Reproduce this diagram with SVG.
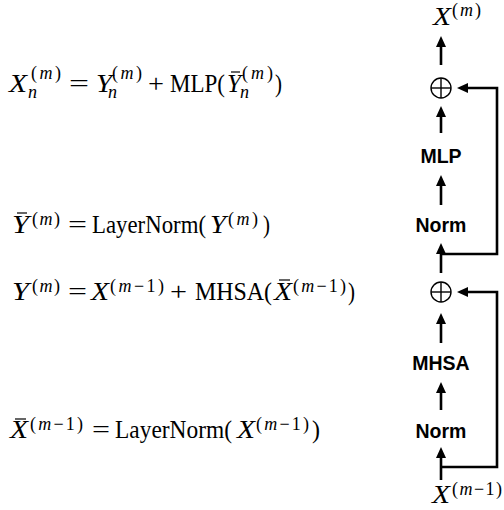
<svg xmlns="http://www.w3.org/2000/svg" width="504" height="510" viewBox="0 0 504 510">
<style>
  .m{font-family:"Liberation Serif","Times New Roman",serif;font-size:25px;fill:#000}
  .s{font-family:"Liberation Serif","Times New Roman",serif;font-size:18px;fill:#000}
  .i{font-style:italic}
  .lbl{font-family:"Liberation Sans",Arial,Helvetica,sans-serif;font-size:19.5px;font-weight:bold;fill:#000;text-anchor:middle}
  .bar{stroke:#000;stroke-width:1.2}
  .conn{fill:none;stroke:#000;stroke-width:2.6}
  .op{fill:none;stroke:#000;stroke-width:1.4}
</style>
<defs>
  <marker id="ah" markerUnits="userSpaceOnUse" markerWidth="11" markerHeight="10" refX="5" refY="5" orient="auto">
    <path d="M0,0 L11,5 L0,10 z" fill="#000"/>
  </marker>
</defs>
<rect width="504" height="510" fill="#fff"/>

<g id="eq1">
  <text class="m i" x="9" y="92" textLength="18" lengthAdjust="spacingAndGlyphs">X</text>
  <text class="s i" x="28" y="98">n</text>
  <text class="s" x="31" y="79" textLength="30" lengthAdjust="spacing">(<tspan class="i">m</tspan>)</text>
  <text class="m" x="69" y="92" textLength="20" lengthAdjust="spacingAndGlyphs">=</text>
  <text class="m i" x="96" y="92" textLength="16" lengthAdjust="spacingAndGlyphs">Y</text>
  <text class="s i" x="108" y="98">n</text>
  <text class="s" x="112" y="79" textLength="30" lengthAdjust="spacing">(<tspan class="i">m</tspan>)</text>
  <text class="m" x="148" y="92" textLength="16" lengthAdjust="spacingAndGlyphs">+</text>
  <text class="m" x="170" y="92" textLength="55" lengthAdjust="spacingAndGlyphs">MLP(</text>
  <text class="m i" x="227" y="92" textLength="14" lengthAdjust="spacingAndGlyphs">Y</text>
  <line class="bar" x1="231" y1="72" x2="240" y2="72"/>
  <text class="s i" x="240" y="98">n</text>
  <text class="s" x="242" y="79" textLength="31" lengthAdjust="spacing">(<tspan class="i">m</tspan>)</text>
  <text class="m" x="275" y="92" textLength="7" lengthAdjust="spacingAndGlyphs">)</text>
</g>

<g id="eq2">
  <text class="m i" x="12" y="233" textLength="17" lengthAdjust="spacingAndGlyphs">Y</text>
  <line class="bar" x1="17" y1="213" x2="27" y2="213"/>
  <text class="s" x="32" y="225" textLength="28" lengthAdjust="spacing">(<tspan class="i">m</tspan>)</text>
  <text class="m" x="68" y="233" textLength="19" lengthAdjust="spacingAndGlyphs">=</text>
  <text class="m" x="92" y="233" textLength="114" lengthAdjust="spacingAndGlyphs">LayerNorm(</text>
  <text class="m i" x="210" y="233" textLength="16" lengthAdjust="spacingAndGlyphs">Y</text>
  <text class="s" x="228" y="225" textLength="30" lengthAdjust="spacing">(<tspan class="i">m</tspan>)</text>
  <text class="m" x="263" y="233" textLength="7" lengthAdjust="spacingAndGlyphs">)</text>
</g>

<g id="eq3">
  <text class="m i" x="12" y="300" textLength="17" lengthAdjust="spacingAndGlyphs">Y</text>
  <text class="s" x="32" y="292" textLength="28" lengthAdjust="spacing">(<tspan class="i">m</tspan>)</text>
  <text class="m" x="68" y="300" textLength="19" lengthAdjust="spacingAndGlyphs">=</text>
  <text class="m i" x="91" y="300" textLength="18" lengthAdjust="spacingAndGlyphs">X</text>
  <text class="s" x="110" y="292" textLength="54" lengthAdjust="spacing">(<tspan class="i">m</tspan>−1)</text>
  <text class="m" x="170" y="300" textLength="17" lengthAdjust="spacingAndGlyphs">+</text>
  <text class="m" x="195" y="300" textLength="77" lengthAdjust="spacingAndGlyphs">MHSA(</text>
  <text class="m i" x="274" y="300" textLength="18" lengthAdjust="spacingAndGlyphs">X</text>
  <line class="bar" x1="279" y1="280" x2="290" y2="280"/>
  <text class="s" x="293" y="292" textLength="53" lengthAdjust="spacing">(<tspan class="i">m</tspan>−1)</text>
  <text class="m" x="348" y="300" textLength="7" lengthAdjust="spacingAndGlyphs">)</text>
</g>

<g id="eq4">
  <text class="m i" x="10" y="438" textLength="18" lengthAdjust="spacingAndGlyphs">X</text>
  <line class="bar" x1="15" y1="419" x2="26" y2="419"/>
  <text class="s" x="30" y="430" textLength="53" lengthAdjust="spacing">(<tspan class="i">m</tspan>−1)</text>
  <text class="m" x="92" y="438" textLength="18" lengthAdjust="spacingAndGlyphs">=</text>
  <text class="m" x="115" y="438" textLength="117" lengthAdjust="spacingAndGlyphs">LayerNorm(</text>
  <text class="m i" x="237" y="438" textLength="18" lengthAdjust="spacingAndGlyphs">X</text>
  <text class="s" x="256" y="430" textLength="53" lengthAdjust="spacing">(<tspan class="i">m</tspan>−1)</text>
  <text class="m" x="312" y="438" textLength="8" lengthAdjust="spacingAndGlyphs">)</text>
</g>

<g id="out">
  <text class="m i" x="433" y="25" textLength="18" lengthAdjust="spacingAndGlyphs">X</text>
  <text class="s" x="452" y="16" textLength="29" lengthAdjust="spacing">(<tspan class="i">m</tspan>)</text>
</g>
<g id="add2">
  <circle class="op" cx="441" cy="88" r="10"/>
  <line class="op" x1="431" y1="88" x2="451" y2="88"/>
  <line class="op" x1="441" y1="78" x2="441" y2="98"/>
</g>
<g id="mlp"><text class="lbl" x="441" y="163">MLP</text></g>
<g id="norm2"><text class="lbl" x="441" y="232">Norm</text></g>
<g id="add1">
  <circle class="op" cx="441" cy="292" r="10"/>
  <line class="op" x1="431" y1="292" x2="451" y2="292"/>
  <line class="op" x1="441" y1="282" x2="441" y2="302"/>
</g>
<g id="mhsa"><text class="lbl" x="441" y="370">MHSA</text></g>
<g id="norm1"><text class="lbl" x="441" y="438">Norm</text></g>
<g id="in">
  <text class="m i" x="432" y="503" textLength="18" lengthAdjust="spacingAndGlyphs">X</text>
  <text class="s" x="452" y="495" textLength="50" lengthAdjust="spacing">(<tspan class="i">m</tspan>−1)</text>
</g>

<g id="connectors">
  <line class="conn" x1="441" y1="65" x2="441" y2="42" marker-end="url(#ah)"/>
  <line class="conn" x1="441" y1="133" x2="441" y2="112" marker-end="url(#ah)"/>
  <line class="conn" x1="441" y1="205" x2="441" y2="181" marker-end="url(#ah)"/>
  <line class="conn" x1="441" y1="273" x2="441" y2="249" marker-end="url(#ah)"/>
  <path class="conn" d="M441,254 H497 V88 H463" marker-end="url(#ah)"/>
  <line class="conn" x1="441" y1="343" x2="441" y2="319" marker-end="url(#ah)"/>
  <line class="conn" x1="441" y1="410" x2="441" y2="388" marker-end="url(#ah)"/>
  <line class="conn" x1="441" y1="480" x2="441" y2="453" marker-end="url(#ah)"/>
  <path class="conn" d="M441,467 H497 V292 H463" marker-end="url(#ah)"/>
</g>
</svg>
